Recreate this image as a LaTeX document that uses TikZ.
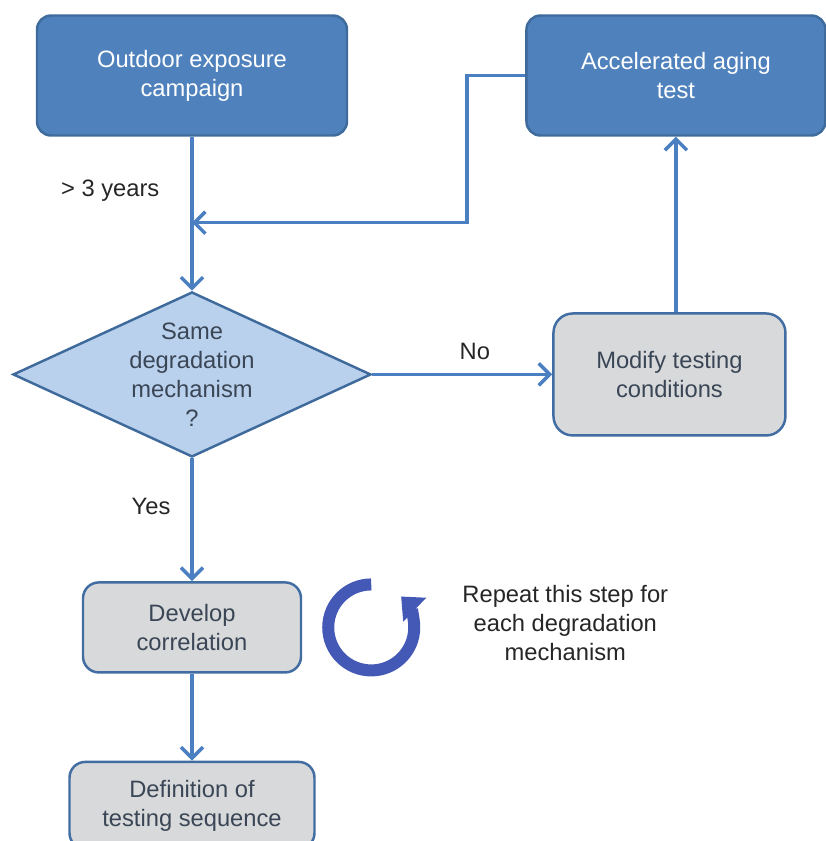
\documentclass[tikz,border=0pt]{standalone}
\usepackage{fontspec}
\setmainfont{Liberation Sans}
\usepackage{xcolor}
\usepackage{tikz}
\usetikzlibrary{positioning, arrows.meta, shapes.geometric, calc}

\definecolor{boxblue}{HTML}{4F81BD}
\definecolor{boxedge}{HTML}{3F6A9C}
\definecolor{diamfill}{HTML}{B9D1EC}
\definecolor{greyfill}{HTML}{D7D9DA}
\definecolor{linkblue}{HTML}{4A7FC1}
\definecolor{cycblue}{HTML}{4459B6}
\definecolor{txtdark}{HTML}{3A4656}

\begin{document}
\begin{tikzpicture}[
    font=\fontsize{13.5}{16.5}\selectfont,
    block/.style={rectangle, draw=boxedge, line width=1.4pt, fill=boxblue, rounded corners=8pt, text=white, align=center, minimum width=6.2cm, minimum height=2.4cm},
    greyblock/.style={rectangle, draw=boxedge!85!linkblue, line width=1.4pt, fill=greyfill, rounded corners=9pt, text=txtdark, align=center},
    decision/.style={diamond, draw=boxedge, line width=1.4pt, fill=diamfill, text=txtdark, align=center, aspect=2.17, inner sep=-2pt, minimum width=7.16cm, minimum height=3.3cm},
    arrow/.style={-{Straight Barb[length=2.2mm, width=4.4mm]}, line width=2pt, draw=linkblue},
    label/.style={text=black!85},
]

\useasboundingbox (0,0) rectangle (16.52,-16.82);

\node[block] at (3.84,-1.51) (outdoor) {Outdoor exposure\\campaign};
\node[block, minimum width=5.98cm, right=3.54cm of outdoor] (accel) {Accelerated aging\\test};

\node[decision, below=3.08cm of outdoor] (same) {Same\\degradation\\mechanism\\?};
\node[greyblock, minimum width=4.64cm, minimum height=2.44cm, rounded corners=11pt, right=3.6cm of same] (modify) {Modify testing\\conditions};

\node[greyblock, minimum width=4.36cm, minimum height=1.8cm, below=2.46cm of same] (corr) {Develop\\correlation};
\node[greyblock, minimum width=4.9cm, minimum height=1.74cm, below=1.74cm of corr] (seq) {Definition of\\testing sequence};

\coordinate (merge) at ($(outdoor.south)+(0,-1.72)$);

\draw[arrow] (outdoor) -- (same) node[label, pos=0.35, left=0.5cm] {> 3 years};
\draw[arrow] (accel.west) -- ++(-1.16,0) |- (merge);
\draw[arrow] (same) -- (modify) node[label, pos=0.57, above=0.15cm] {No};
\draw[arrow] (modify.north -| accel.south) -- (accel.south);
\draw[arrow] (same) -- (corr) node[label, pos=0.39, left=0.28cm] {Yes};
\draw[arrow] (corr) -- (corr |- seq.north);

\coordinate[right=1.38cm of corr] (cyc);
\draw[cycblue, line width=0.24cm, -{Triangle[length=0.38cm, width=0.64cm]}]
    ($(cyc)+(90:0.86)$) arc[start angle=90, end angle=406, radius=0.86cm];

\node[label, align=center, right=3.08cm of corr, yshift=0.08cm] (repeat) {Repeat this step for\\each degradation\\mechanism};

\end{tikzpicture}
\end{document}
